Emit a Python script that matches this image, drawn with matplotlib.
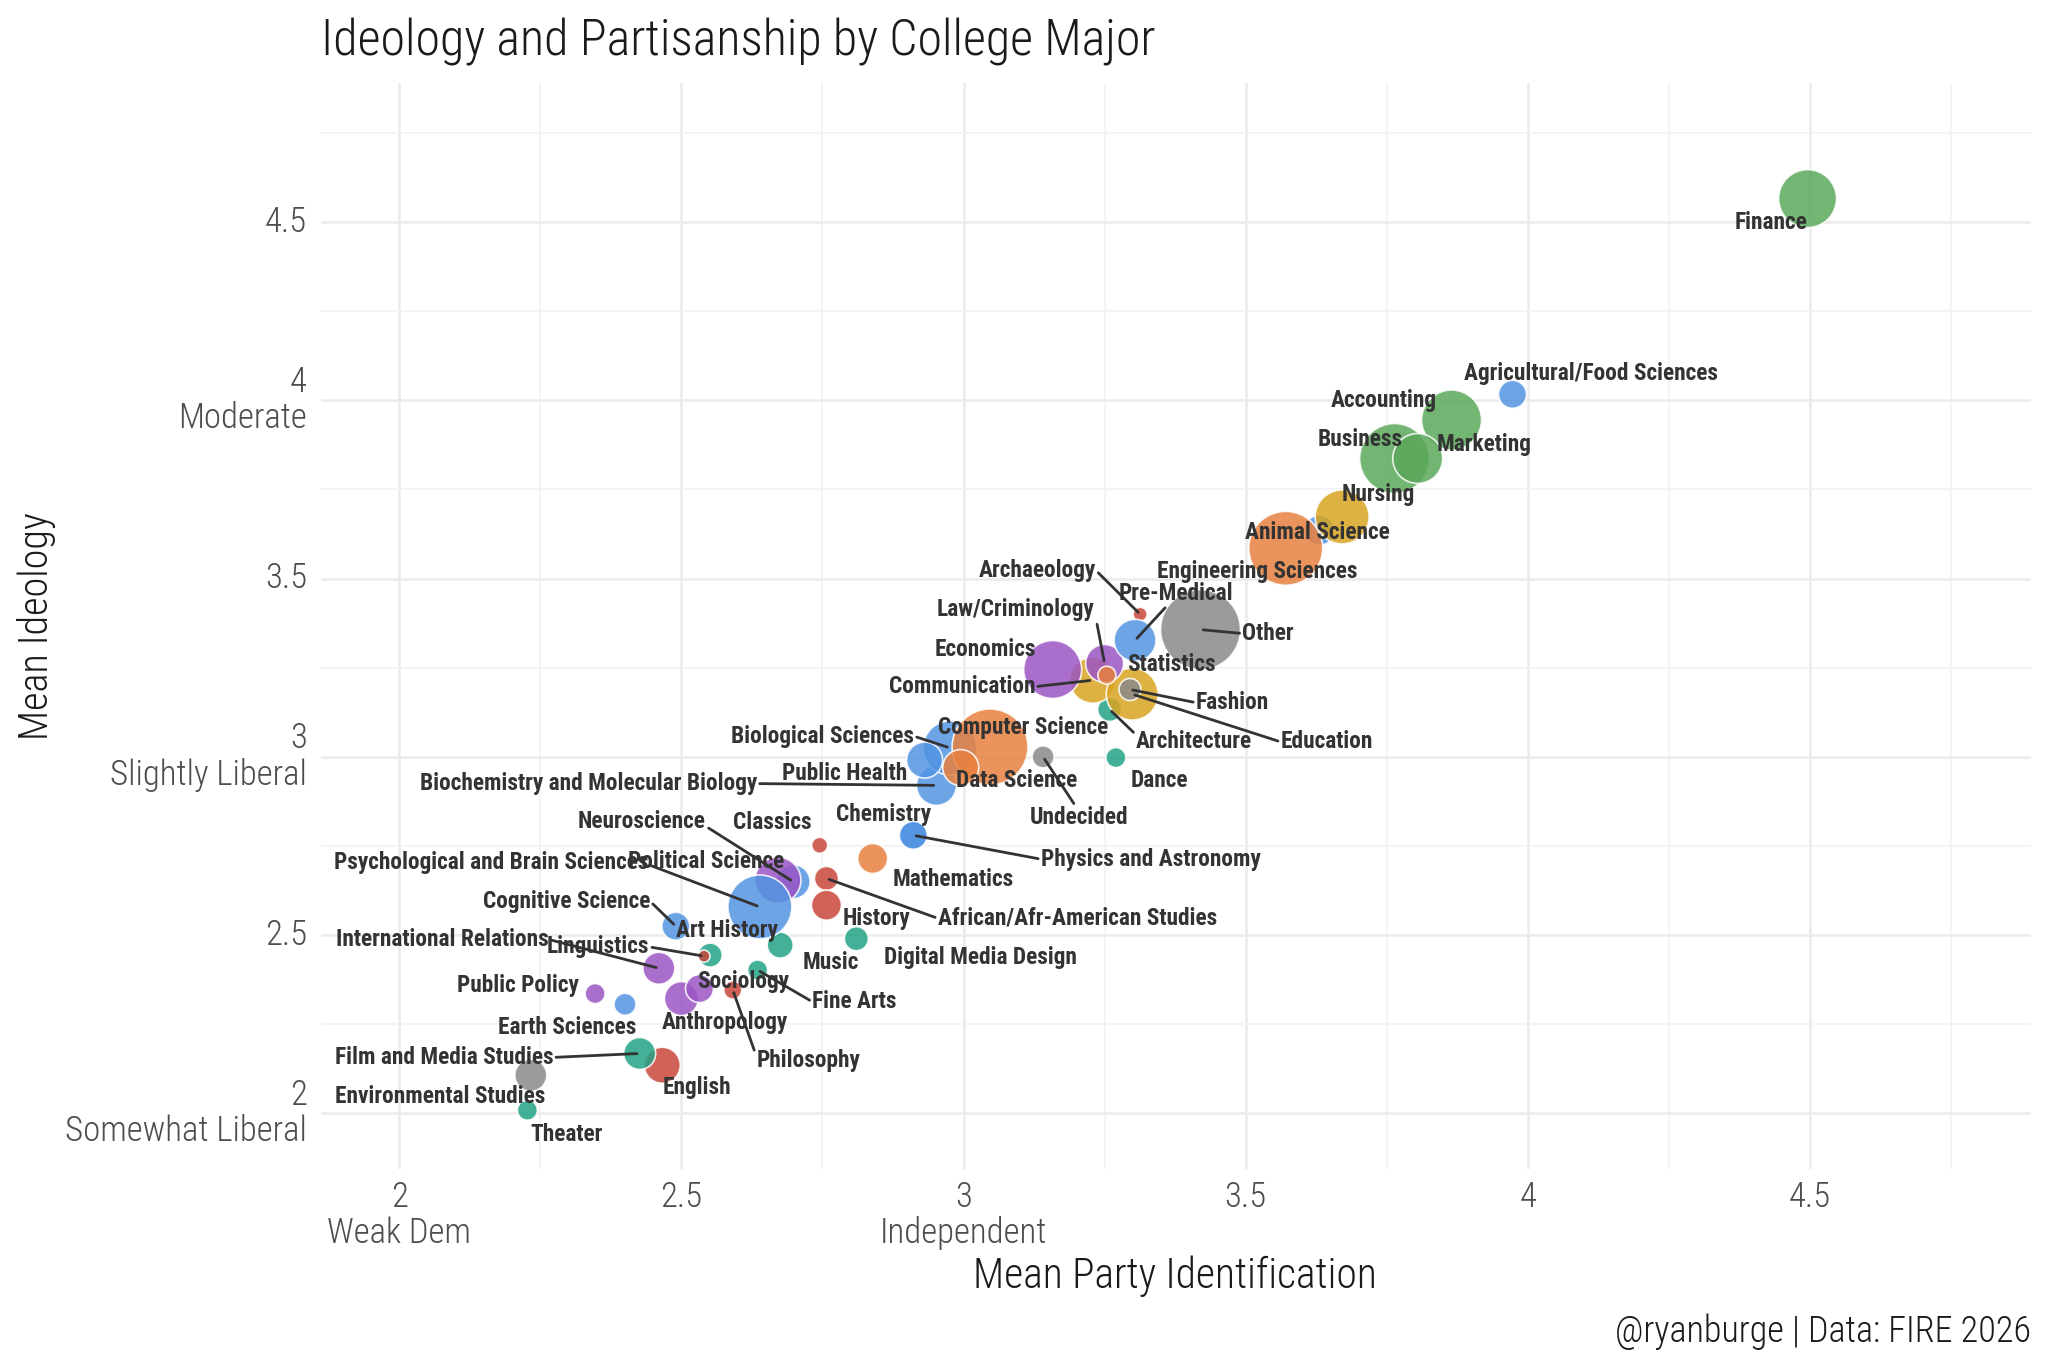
import matplotlib
matplotlib.use("Agg")
import matplotlib.pyplot as plt
from matplotlib import font_manager
from matplotlib.ticker import MultipleLocator

# ─────────────────────────────────────────────
#  Fuentes
# ─────────────────────────────────────────────
NAMES = {f.name for f in font_manager.fontManager.ttflist}
TEXT_FONT = "Roboto Condensed" if "Roboto Condensed" in NAMES else "Roboto"
LABEL_FONT = TEXT_FONT

# ─────────────────────────────────────────────
#  Datos (orden alfabético = orden de dibujo)
# ─────────────────────────────────────────────
majors = [
    "Accounting", "African/Afr-American Studies", "Agricultural/Food Sciences",
    "Animal Science", "Anthropology", "Archaeology", "Architecture", "Art History",
    "Biochemistry and Molecular Biology", "Biological Sciences", "Business",
    "Chemistry", "Classics", "Cognitive Science", "Communication",
    "Computer Science", "Dance", "Data Science", "Digital Media Design",
    "Earth Sciences", "Economics", "Education", "Engineering Sciences", "English",
    "Environmental Studies", "Fashion", "Film and Media Studies", "Finance",
    "Fine Arts", "History", "International Relations", "Law/Criminology",
    "Linguistics", "Marketing", "Mathematics", "Music", "Neuroscience", "Nursing",
    "Other", "Philosophy", "Physics and Astronomy", "Political Science",
    "Pre-Medical", "Psychological and Brain Sciences", "Public Health",
    "Public Policy", "Sociology", "Statistics", "Theater", "Undecided",
]

party = [
    3.865, 2.757, 3.973, 3.631, 2.500, 3.313, 3.259, 2.551, 2.952, 2.976, 3.764,
    2.911, 2.745, 2.490, 3.229, 3.047, 3.270, 2.995, 2.810, 2.400, 3.158, 3.299,
    3.571, 2.466, 2.233, 3.295, 2.426, 4.496, 2.635, 2.757, 2.460, 3.250, 2.540,
    3.805, 2.839, 2.675, 2.698, 3.671, 3.420, 2.591, 2.911, 2.671, 3.304, 2.639,
    2.931, 2.347, 2.532, 3.254, 2.227, 3.141,
]

ideology = [
    3.945, 2.659, 4.017, 3.636, 2.322, 3.400, 3.133, 2.444, 2.920, 3.025, 3.837,
    2.780, 2.752, 2.525, 3.215, 3.028, 2.998, 2.970, 2.490, 2.306, 3.245, 3.176,
    3.585, 2.135, 2.107, 3.189, 2.168, 4.566, 2.402, 2.584, 2.407, 3.262, 2.441,
    3.837, 2.715, 2.472, 2.650, 3.673, 3.357, 2.346, 2.780, 2.654, 3.327, 2.579,
    2.991, 2.336, 2.350, 3.229, 2.009, 3.000,
]

# tamaño relativo de la muestra (área de la burbuja)
n = [
    900, 144, 196, 225, 289, 49, 144, 144, 400, 729, 1225,
    196, 64, 196, 529, 1444, 100, 324, 144, 121, 841, 676,
    1369, 324, 256, 121, 256, 841, 100, 225, 256, 361, 36,
    625, 225, 169, 289, 729, 1600, 81, 196, 529, 441, 1024,
    324, 100, 196, 81, 100, 121,
]

field = [
    "bus", "hum", "sci", "sci", "soc", "hum", "art", "art", "sci", "sci", "bus",
    "sci", "hum", "sci", "pro", "tech", "art", "tech", "art", "sci", "soc", "pro",
    "tech", "hum", "oth", "oth", "art", "bus", "art", "hum", "soc", "soc", "hum",
    "bus", "tech", "art", "sci", "pro", "oth", "hum", "sci", "soc", "sci", "sci",
    "sci", "soc", "soc", "tech", "art", "oth",
]

PALETTE = {
    "bus": "#5BA85B", "sci": "#5294E2", "tech": "#E8803F", "pro": "#D9A422",
    "soc": "#9B55C4", "hum": "#C8473A", "art": "#23A285", "oth": "#8A8A8A",
}

# centro de cada etiqueta y punto de arranque del segmento sobre la caja
# (None = sin segmento)
LABELS = {
    "Accounting": (3.745, 3.999, None),
    "African/Afr-American Studies": (3.202, 2.547, (0, 0.5)),
    "Agricultural/Food Sciences": (4.113, 4.076, None),
    "Animal Science": (3.627, 3.628, None),
    "Anthropology": (2.577, 2.255, None),
    "Archaeology": (3.130, 3.524, (1, 0.5)),
    "Architecture": (3.409, 3.042, (0, 0.8)),
    "Art History": (2.580, 2.512, None),
    "Biochemistry and Molecular Biology": (2.335, 2.925, (1, 0.5)),
    "Biological Sciences": (2.750, 3.058, (1, 0.5)),
    "Business": (3.703, 3.890, None),
    "Chemistry": (2.859, 2.839, None),
    "Classics": (2.661, 2.815, None),
    "Cognitive Science": (2.296, 2.595, (1, 0.5)),
    "Communication": (2.997, 3.197, (1, 0.5)),
    "Computer Science": (3.105, 3.083, None),
    "Dance": (3.347, 2.935, None),
    "Data Science": (3.094, 2.935, None),
    "Digital Media Design": (3.030, 2.436, None),
    "Earth Sciences": (2.297, 2.241, None),
    "Economics": (3.039, 3.302, None),
    "Education": (3.644, 3.042, (0, 0.5)),
    "Engineering Sciences": (3.520, 3.520, None),
    "English": (2.528, 2.073, None),
    "Environmental Studies": (2.073, 2.048, None),
    "Fashion": (3.477, 3.152, (0, 0.5)),
    "Film and Media Studies": (2.079, 2.157, (1, 0.5)),
    "Finance": (4.431, 4.500, None),
    "Fine Arts": (2.807, 2.313, (0, 0.5)),
    "History": (2.846, 2.547, None),
    "International Relations": (2.076, 2.488, (1, 0.5)),
    "Law/Criminology": (3.092, 3.412, (1, 0.5)),
    "Linguistics": (2.352, 2.467, (1, 0.5)),
    "Marketing": (3.923, 3.877, None),
    "Mathematics": (2.981, 2.656, None),
    "Music": (2.764, 2.422, None),
    "Neuroscience": (2.430, 2.818, (1, 0.3)),
    "Nursing": (3.735, 3.736, None),
    "Other": (3.540, 3.346, (0, 0.5)),
    "Philosophy": (2.726, 2.149, (0, 0.6)),
    "Physics and Astronomy": (3.332, 2.713, (0, 0.5)),
    "Political Science": (2.543, 2.706, None),
    "Pre-Medical": (3.376, 3.458, (0.43, 0)),
    "Psychological and Brain Sciences": (2.163, 2.704, (1, 0.4)),
    "Public Health": (2.790, 2.954, None),
    "Public Policy": (2.211, 2.358, None),
    "Sociology": (2.609, 2.369, None),
    "Statistics": (3.368, 3.260, None),
    "Theater": (2.297, 1.942, None),
    "Undecided": (3.204, 2.829, (0.47, 1)),
}

x_ticks = [2, 2.5, 3, 3.5, 4, 4.5]
x_ticklabels = ["2\nWeak Dem", "2.5", "3\nIndependent", "3.5", "4", "4.5"]
y_ticks = [2, 2.5, 3, 3.5, 4, 4.5]
y_ticklabels = ["2\nSomewhat Liberal", "2.5", "3\nSlightly Liberal", "3.5",
                "4\nModerate", "4.5"]

SIZE_SCALE = 2.07   # px² de radio -> pt² de scatter (dpi 100)
INK = "#333333"

# ─────────────────────────────────────────────
#  Figura
# ─────────────────────────────────────────────
fig = plt.figure(figsize=(20.48, 13.65), dpi=100)
fig.patch.set_facecolor("white")
ax = fig.add_axes([0.1567, 0.1436, 0.835, 0.7958])

ax.scatter(party, ideology, s=[v * SIZE_SCALE for v in n],
           c=[PALETTE[f] for f in field], alpha=0.85,
           edgecolors="white", linewidths=1.2, zorder=2)

for name, px, py in zip(majors, party, ideology):
    lx, ly, relpos = LABELS[name]
    kw = dict(ha="center", va="center", fontsize=16.8, fontweight="bold",
              color=INK, family=LABEL_FONT, zorder=4)
    if relpos is not None:
        ax.annotate(name, xy=(px, py), xytext=(lx, ly),
                    arrowprops=dict(arrowstyle="-", color=INK, lw=2.0,
                                    relpos=relpos, shrinkA=0, shrinkB=2),
                    **kw)
    else:
        ax.text(lx, ly, name, **kw)

ax.set_xlim(1.861, 4.892)
ax.set_ylim(1.844, 4.891)

ax.set_xticks(x_ticks)
ax.set_xticklabels(x_ticklabels, fontsize=25, color="#4D4D4D",
                   family=TEXT_FONT, fontweight="light", linespacing=1.1)
ax.set_yticks(y_ticks)
ax.set_yticklabels(y_ticklabels, fontsize=25, color="#4D4D4D",
                   family=TEXT_FONT, fontweight="light", linespacing=1.1)
for lab in ax.get_yticklabels():
    lab.set_va("center")
ax.xaxis.set_minor_locator(MultipleLocator(0.25))
ax.yaxis.set_minor_locator(MultipleLocator(0.25))
ax.tick_params(which="both", length=0)
ax.tick_params(axis="x", pad=8)
ax.tick_params(axis="y", pad=10)

ax.grid(which="major", color="#EBEBEB", lw=1.8, zorder=0)
ax.grid(which="minor", color="#F2F2F2", lw=1.2, zorder=0)
ax.set_axisbelow(True)
for sp in ax.spines.values():
    sp.set_visible(False)

fig.text(0.1567, 0.9597, "Ideology and Partisanship by College Major",
         fontsize=36, fontweight="light", family=TEXT_FONT, color="#1A1A1A",
         ha="left", va="baseline")
fig.text(0.5737, 0.0652, "Mean Party Identification", fontsize=30,
         fontweight="light", family=TEXT_FONT, color="#1A1A1A",
         ha="center", va="center")
fig.text(0.018, 0.5414, "Mean Ideology", fontsize=29, rotation=90,
         fontweight="light", family=TEXT_FONT, color="#1A1A1A",
         ha="center", va="center")
fig.text(0.9917, 0.0242, "@ryanburge | Data: FIRE 2026", fontsize=26,
         fontweight="light", family=TEXT_FONT, color="#1A1A1A",
         ha="right", va="center")

fig.savefig("out.png", dpi=100, facecolor="white")
